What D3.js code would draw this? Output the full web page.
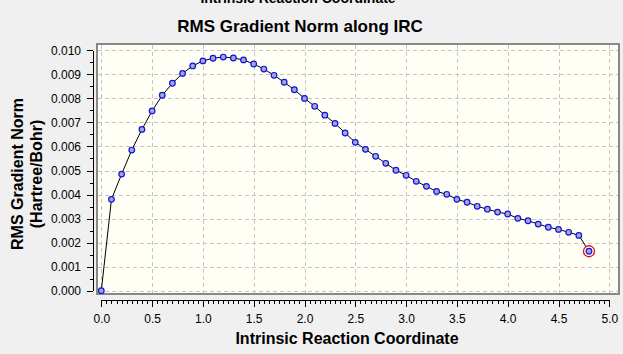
<!doctype html>
<html lang="en">
<head>
  <meta charset="UTF-8">
  <title>RMS Gradient Norm along IRC</title>
<style>
  body{ margin: 0; background: #f0f0f0; }
  svg{ display: block; font-family: "Liberation Sans", Arial, sans-serif; }
  .axis path,
  .axis line{
    fill: none;
    stroke: black;
    shape-rendering: crispEdges;
  }
  .axis text{
    font-size: 12px;
    fill: black;
  }
  .grid line{
    stroke: #c4c4c4;
    stroke-dasharray: 4,3;
    shape-rendering: crispEdges;
  }
  .line{
    fill: none;
    stroke: black;
    stroke-width: 1px;
  }
  .dot{
    fill: #a6aabd;
    stroke: #1010f0;
    stroke-width: 1.2px;
  }
  .title{ font-weight: bold; font-size: 17px; }
  .label{ font-weight: bold; font-size: 16px; }
</style>
</head>

<body>
<script src="https://cdn.jsdelivr.net/npm/d3@7"></script>

<script>
// IRC points (x = reaction coordinate, y = RMS gradient norm)
var ircX = [0.0, 0.1, 0.2, 0.3, 0.4, 0.5, 0.6, 0.7, 0.8, 0.9,
            1.0, 1.1, 1.2, 1.3, 1.4, 1.5, 1.6, 1.7, 1.8, 1.9,
            2.0, 2.1, 2.2, 2.3, 2.4, 2.5, 2.6, 2.7, 2.8, 2.9,
            3.0, 3.1, 3.2, 3.3, 3.4, 3.5, 3.6, 3.7, 3.8, 3.9,
            4.0, 4.1, 4.2, 4.3, 4.4, 4.5, 4.6, 4.7, 4.8];
var rmsGrad = [0.00000, 0.00380, 0.00485, 0.00585, 0.00671, 0.00748, 0.00813, 0.00863, 0.00904, 0.00935,
               0.00956, 0.00967, 0.00972, 0.00968, 0.00960, 0.00943, 0.00922, 0.00896, 0.00867, 0.00836,
               0.00800, 0.00767, 0.00730, 0.00696, 0.00656, 0.00617, 0.00588, 0.00559, 0.00530, 0.00501,
               0.00480, 0.00455, 0.00434, 0.00413, 0.00401, 0.00380, 0.00368, 0.00351, 0.00339, 0.00327,
               0.00319, 0.00301, 0.00291, 0.00277, 0.00264, 0.00255, 0.00243, 0.00230, 0.00164];
var xTicks = [0.0, 0.5, 1.0, 1.5, 2.0, 2.5, 3.0, 3.5, 4.0, 4.5, 5.0];
var yTicks = [0.000, 0.001, 0.002, 0.003, 0.004, 0.005, 0.006, 0.007, 0.008, 0.009, 0.010];

var width = 623, height = 354;

var dataset = ircX.map(function(x, i){ return {x: x, y: rmsGrad[i]}; });

var xScale = d3.scaleLinear().domain([0, 5]).range([101.3, 609.3]);
var yScale = d3.scaleLinear().domain([0, 0.010]).range([290.7, 50.3]);

var svg = d3.select("body").append("svg")
    .attr("width", width)
    .attr("height", height);

// title of a chart above, cut off by the top edge as in the original window
svg.append("text")
    .attr("class", "label")
    .attr("x", 298).attr("y", 3)
    .attr("text-anchor", "middle")
    .style("font-size", "14px")
    .text("Intrinsic Reaction Coordinate");

svg.append("text")
    .attr("class", "title")
    .attr("x", 300).attr("y", 32)
    .attr("text-anchor", "middle")
    .text("RMS Gradient Norm along IRC");

// plot area
svg.append("rect")
    .attr("x", 97).attr("y", 44)
    .attr("width", 522).attr("height", 250)
    .attr("fill", "#fffff5")
    .attr("stroke", "#888")
    .attr("stroke-width", 2);

var grid = svg.append("g").attr("class", "grid");
grid.selectAll(".gx").data(xTicks).enter().append("line")
    .attr("x1", function(d){ return Math.round(xScale(d)) + 0.5; })
    .attr("x2", function(d){ return Math.round(xScale(d)) + 0.5; })
    .attr("y1", 45).attr("y2", 293);
grid.selectAll(".gy").data(yTicks).enter().append("line")
    .attr("y1", function(d){ return Math.round(yScale(d)) + 0.5; })
    .attr("y2", function(d){ return Math.round(yScale(d)) + 0.5; })
    .attr("x1", 98).attr("x2", 618);

// y axis
var yAxis = d3.axisLeft(yScale)
    .tickValues(yTicks)
    .tickFormat(d3.format(".3f"))
    .tickSizeInner(6)
    .tickSizeOuter(0)
    .tickPadding(6);
var yMinor = d3.axisLeft(yScale)
    .tickValues(d3.range(0.0005, 0.010, 0.001))
    .tickFormat("")
    .tickSizeInner(3)
    .tickSizeOuter(0);

svg.append("g").attr("class", "y axis")
    .attr("transform", "translate(93,0)")
    .call(yAxis);
svg.append("g").attr("class", "y axis")
    .attr("transform", "translate(93,0)")
    .call(yMinor);

// x axis
var xAxis = d3.axisBottom(xScale)
    .tickValues(xTicks)
    .tickFormat(d3.format(".1f"))
    .tickSizeInner(7)
    .tickSizeOuter(0)
    .tickPadding(7);
var xMinor = d3.axisBottom(xScale)
    .tickValues(d3.range(0, 5.001, 0.05))
    .tickFormat("")
    .tickSizeInner(4)
    .tickSizeOuter(0);

svg.append("g").attr("class", "x axis")
    .attr("transform", "translate(0,300)")
    .call(xAxis);
svg.append("g").attr("class", "x axis")
    .attr("transform", "translate(0,300)")
    .call(xMinor);

svg.append("text")
    .attr("class", "label")
    .attr("x", 347).attr("y", 344)
    .attr("text-anchor", "middle")
    .text("Intrinsic Reaction Coordinate");

svg.append("text")
    .attr("class", "label")
    .attr("transform", "translate(23,174) rotate(-90)")
    .attr("text-anchor", "middle")
    .text("RMS Gradient Norm");
svg.append("text")
    .attr("class", "label")
    .attr("transform", "translate(42,174) rotate(-90)")
    .attr("text-anchor", "middle")
    .text("(Hartree/Bohr)");

// curve and points
var line = d3.line()
    .x(function(d){ return xScale(d.x); })
    .y(function(d){ return yScale(d.y); });

svg.append("path")
    .datum(dataset)
    .attr("class", "line")
    .attr("d", line);

var last = dataset[dataset.length - 1];
svg.append("circle")
    .attr("cx", xScale(last.x)).attr("cy", yScale(last.y))
    .attr("r", 5.5)
    .attr("fill", "white")
    .attr("stroke", "#e01010")
    .attr("stroke-width", 1.3);

svg.selectAll(".dot")
    .data(dataset)
    .enter().append("circle")
    .attr("class", "dot")
    .attr("cx", function(d){ return xScale(d.x); })
    .attr("cy", function(d){ return yScale(d.y); })
    .attr("r", 2.8);
</script>
</body>
</html>
